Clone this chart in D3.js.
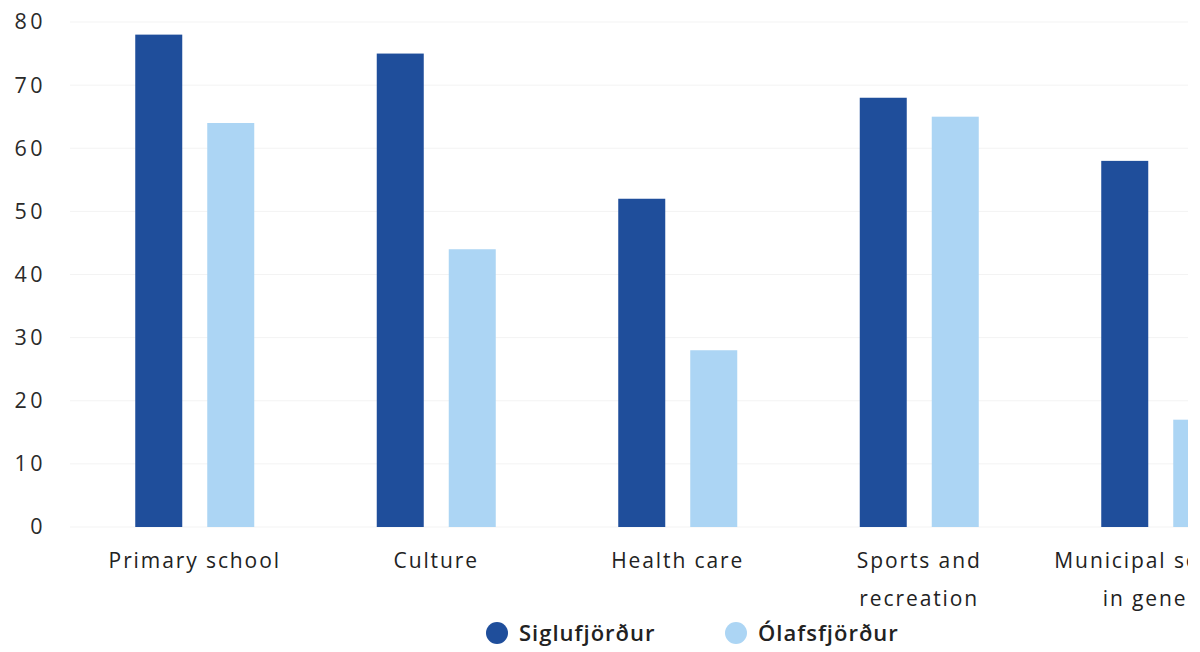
<!DOCTYPE html>
<html>
<head>
<meta charset="utf-8">
<script src="https://cdn.jsdelivr.net/npm/d3@7"></script>
<style>
  html, body { margin: 0; padding: 0; background: #fff; }
  svg { display: block; font-family: "Open Sans", "Noto Sans", sans-serif; }
</style>
</head>
<body>
<svg id="chart" width="1188" height="652"></svg>
<script>
// Survey results per service area, two towns
const categories = ["Primary school", "Culture", "Health care", "Sports and recreation", "Municipal services in general"];
const categoryLines = [["Primary school"], ["Culture"], ["Health care"], ["Sports and", "recreation"], ["Municipal services", "in general"]];
const seriesNames = ["Siglufjörður", "Ólafsfjörður"];
const siglufjordur = [78, 75, 52, 68, 58];
const olafsfjordur = [64, 44, 28, 65, 17];
const yTicks = [0, 10, 20, 30, 40, 50, 60, 70, 80];

const colors = ["#1f4e9b", "#acd5f4"];
const series = [siglufjordur, olafsfjordur];

const svg = d3.select("#chart");
const left = 74, bandStep = 241.5;
const x0 = d3.scaleBand()
  .domain(categories)
  .range([left, left + bandStep * categories.length])
  .paddingInner(0).paddingOuter(0);
const x1 = d3.scaleBand()
  .domain(seriesNames)
  .range([0, 119])
  .paddingInner(25 / 72);
const y = d3.scaleLinear().domain([0, 80]).range([527, 22]);

// Horizontal grid
svg.append("g")
  .selectAll("line")
  .data(yTicks)
  .join("line")
  .attr("x1", 70).attr("x2", 1188)
  .attr("y1", d => y(d)).attr("y2", d => y(d))
  .attr("stroke", "#f3f3f3").attr("stroke-width", 1);

// Y axis labels
const yAxis = d3.axisLeft(y).tickValues(yTicks).tickSize(0).tickPadding(0);
svg.append("g")
  .attr("transform", "translate(46,0)")
  .call(yAxis)
  .call(g => g.select(".domain").remove())
  .call(g => g.selectAll("text")
    .attr("font-size", 21.5)
    .attr("font-family", "'Open Sans', sans-serif")
    .attr("fill", "#2a2a2a")
    .attr("letter-spacing", "3.5px"));

// Bars
const groups = svg.append("g")
  .selectAll("g")
  .data(categories)
  .join("g")
  .attr("transform", d => `translate(${x0(d) + (x0.bandwidth() - 119) / 2},0)`);

groups.selectAll("rect")
  .data((d, i) => seriesNames.map((s, j) => ({ s, v: series[j][i], j })))
  .join("rect")
  .attr("x", d => x1(d.s))
  .attr("width", x1.bandwidth())
  .attr("y", d => y(d.v))
  .attr("height", d => y(0) - y(d.v))
  .attr("fill", d => colors[d.j]);

// Category labels
const labels = svg.append("g")
  .selectAll("text")
  .data(categories)
  .join("text")
  .attr("x", d => x0(d) + x0.bandwidth() / 2)
  .attr("y", 568)
  .attr("text-anchor", "middle")
  .attr("font-size", 21)
  .attr("letter-spacing", "1.9px")
  .attr("fill", "#222");
labels.selectAll("tspan")
  .data((d, i) => categoryLines[i])
  .join("tspan")
  .attr("x", function () { return d3.select(this.parentNode).attr("x"); })
  .attr("dy", (d, i) => i === 0 ? 0 : 38)
  .text(d => d);

// Legend
const legendItems = [
  { name: seriesNames[0], color: colors[0], cx: 497 },
  { name: seriesNames[1], color: colors[1], cx: 736 }
];
const legend = svg.append("g")
  .selectAll("g")
  .data(legendItems)
  .join("g");
legend.append("circle")
  .attr("cx", d => d.cx).attr("cy", 633).attr("r", 11)
  .attr("fill", d => d.color);
legend.append("text")
  .attr("x", d => d.cx + 22).attr("y", 641)
  .attr("font-size", 22).attr("font-weight", 600)
  .attr("letter-spacing", "1px")
  .attr("fill", "#222")
  .text(d => d.name);
</script>
</body>
</html>
